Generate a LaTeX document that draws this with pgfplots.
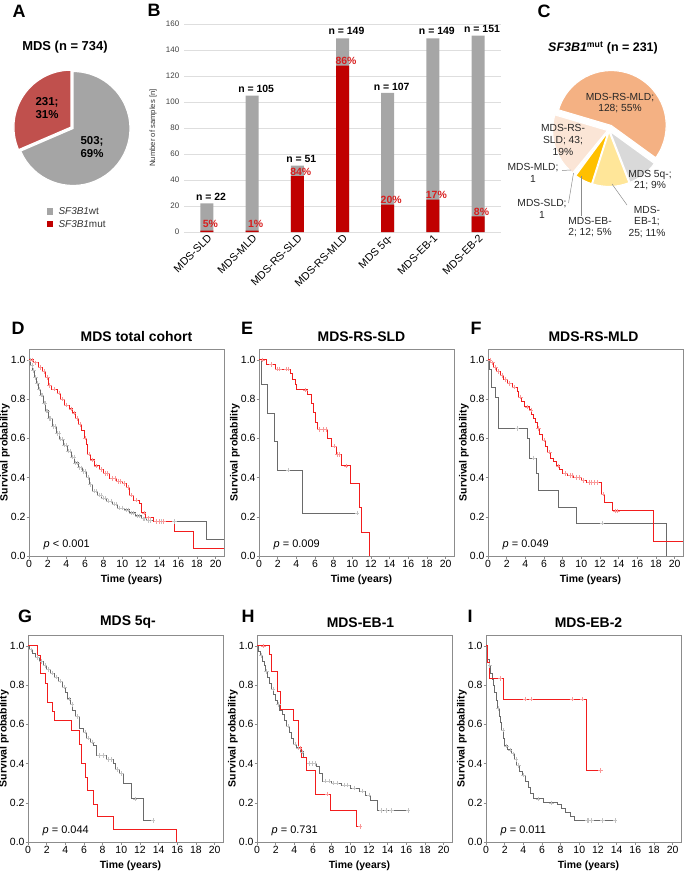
\documentclass[border=0pt]{standalone}
\usepackage{pgfplots}
\pgfplotsset{compat=1.18}
\usepackage{fontspec}
\setmainfont{Liberation Sans}

\definecolor{pieRed}{HTML}{C0504D}
\definecolor{pieGray}{HTML}{A5A5A5}
\definecolor{barRed}{HTML}{C00000}
\definecolor{barGray}{HTML}{A6A6A6}
\definecolor{pctRed}{HTML}{D81E1E}
\definecolor{cOrange}{HTML}{F4B183}
\definecolor{cPeach}{HTML}{FBE5D6}
\definecolor{cGray}{HTML}{D9D9D9}
\definecolor{cYellow}{HTML}{FFE699}
\definecolor{cGold}{HTML}{FFC000}
\definecolor{cSLD}{HTML}{C55A11}
\definecolor{cMLD}{HTML}{F8CBAD}
\definecolor{kmRed}{HTML}{F21D1D}
\definecolor{kmGray}{HTML}{6A6A6A}
\definecolor{kmBox}{HTML}{8C8C8C}

\tikzset{
 nlab/.style={font=\bfseries\fontsize{10.5}{11}\selectfont, xshift=4bp},
 plab/.style={font=\bfseries\fontsize{10.5}{11}\selectfont, text=pctRed, xshift=3.5bp},
 clab/.style={align=center, font=\fontsize{10.3}{11.7}\selectfont, text=black!85},
 letter/.style={font=\bfseries\fontsize{18}{18}\selectfont},
}

\pgfplotsset{
 km/.style={
  scale only axis, width=195bp, height=207bp,
  xmin=0, xmax=20.9, ymin=0, ymax=1.055,
  xtick={0,2,...,20}, ytick={0,0.2,0.4,0.6,0.8,1.0},
  tick pos=left, tick align=outside, major tick length=2.5bp,
  axis line style={kmBox, line width=0.6bp},
  tick style={kmBox, line width=0.5bp},
  /pgf/number format/assume math mode=true,
  ticklabel style={font=\fontsize{10.5}{11}\selectfont},
  yticklabel style={/pgf/number format/fixed, /pgf/number format/fixed zerofill, /pgf/number format/precision=1, inner xsep=0.8bp},
  xticklabel style={inner ysep=1.5bp},
  xlabel={Time (years)}, ylabel={Survival probability},
  label style={font=\bfseries\fontsize{10.5}{11}\selectfont},
  xlabel style={at={(axis description cs:0.5,-0.116)}, anchor=center, xshift=5bp},
  ylabel style={at={(axis description cs:-0.123,0.5)}, anchor=center},
  title style={font=\bfseries\fontsize{14}{15}\selectfont, yshift=-2.5bp},
 },
 redline/.style={const plot, kmRed, line width=0.8bp, mark=none},
 grayline/.style={const plot, kmGray, line width=0.8bp, mark=none},
 redcens/.style={only marks, mark=+, mark size=2.2bp, color=kmRed!45, mark options={line width=0.5bp}},
 graycens/.style={only marks, mark=+, mark size=2.2bp, color=kmGray!40, mark options={line width=0.5bp}},
}
\newcommand{\pval}[1]{\node[anchor=west, font=\fontsize{11}{12}\selectfont] at (axis cs:1.2,0.055) {#1};}
\newcommand{\pieslice}[5]{% color, start, end, explode, radius
  \fill[#1, draw=white, line width=1.2bp, shift={({(#2+#3)/2}:#4)}] (axis cs:0,0) -- ++(#2:#5) arc[start angle=#2, end angle=#3, radius=#5] -- cycle;}

\begin{document}
\begin{tikzpicture}
\path[use as bounding box] (0,0) rectangle (684bp,-871bp);

% panel letters
\node[letter] at (19bp,-11bp) {A};
\node[letter] at (154bp,-10bp) {B};
\node[letter] at (544bp,-11bp) {C};
\node[letter] at (18bp,-328bp) {D};
\node[letter] at (247bp,-328bp) {E};
\node[letter] at (476bp,-328bp) {F};
\node[letter] at (25bp,-616bp) {G};
\node[letter] at (248bp,-616bp) {H};
\node[letter] at (470bp,-616bp) {I};

% ---------------- A: pie -----------------
\pgfmathsetmacro\Awt{503}
\pgfmathsetmacro\Amut{231}
\pgfmathsetmacro\Amutang{90+\Amut/(\Awt+\Amut)*360}
\node[font=\bfseries\fontsize{13}{14}\selectfont] at (65bp,-47bp) {MDS (n = 734)};
\begin{axis}[at={(73bp,-128.5bp)}, anchor=center, hide axis, scale only axis,
  width=120bp, height=120bp, xmin=-1, xmax=1, ymin=-1, ymax=1]
\pieslice{pieGray}{\Amutang}{450}{0bp}{57bp}
\pieslice{pieRed}{90}{\Amutang}{2.5bp}{57bp}
\end{axis}
\node[align=center, font=\bfseries\fontsize{11.5}{13.3}\selectfont] at (47bp,-108bp) {231;\\31\%};
\node[align=center, font=\bfseries\fontsize{11.5}{13.3}\selectfont] at (92bp,-147bp) {503;\\69\%};
\fill[pieGray] (46.5bp,-208bp) rectangle (53bp,-214.5bp);
\fill[barRed] (46.5bp,-220.5bp) rectangle (53bp,-227bp);
\node[anchor=west, font=\fontsize{10}{11}\selectfont, text=black!80] at (55bp,-211.3bp) {\textit{SF3B1}wt};
\node[anchor=west, font=\fontsize{10}{11}\selectfont, text=black!80] at (55bp,-223.8bp) {\textit{SF3B1}mut};

% ---------------- B: bars -----------------
\begin{axis}[at={(184.4bp,-232bp)}, anchor=south west, scale only axis,
  width=316.2bp, height=208bp,
  ybar=0pt, bar width=13bp, bar shift=0pt, xmin=-0.5, xmax=6.5, ymin=0, ymax=160,
  ytick={0,20,...,160}, xtick={0,...,6},
  xticklabels={MDS-SLD,MDS-MLD,MDS-RS-SLD,MDS-RS-MLD,MDS 5q-,MDS-EB-1,MDS-EB-2},
  axis line style={draw=none}, major tick length=0pt,
  ymajorgrids, grid style={black!13, line width=0.7bp},
  /pgf/number format/assume math mode=true,
  yticklabel style={font=\fontsize{8}{9}\selectfont, text=black!75, inner xsep=5bp},
  xticklabel style={font=\fontsize{10.8}{11}\selectfont, rotate=45, anchor=north east, inner sep=1bp},
  ylabel={Number of samples [n]},
  ylabel style={font=\fontsize{7.7}{8}\selectfont, at={(axis description cs:-0.099,0.5)}, anchor=center, text=black!80},
]
\addplot[fill=barGray, draw=none] coordinates {(0,22)(1,105)(2,51)(3,149)(4,107)(5,149)(6,151)};
\addplot[fill=barRed, draw=none] coordinates {(0,1)(1,1)(2,43)(3,128)(4,21)(5,25)(6,12)};
\node[nlab] at (axis cs:0,27) {n = 22};
\node[nlab] at (axis cs:1,110) {n = 105};
\node[nlab] at (axis cs:2,56) {n = 51};
\node[nlab] at (axis cs:3,154.5) {n = 149};
\node[nlab] at (axis cs:4,112) {n = 107};
\node[nlab] at (axis cs:5,154.5) {n = 149};
\node[nlab] at (axis cs:6,156) {n = 151};
\node[plab] at (axis cs:0,6.2) {5\%};
\node[plab] at (axis cs:1,6.2) {1\%};
\node[plab] at (axis cs:2,46.6) {84\%};
\node[plab] at (axis cs:3,131.6) {86\%};
\node[plab] at (axis cs:4,24.8) {20\%};
\node[plab] at (axis cs:5,28.8) {17\%};
\node[plab] at (axis cs:6,15.8) {8\%};
\end{axis}

% ---------------- C: pie -----------------
\pgfmathsetmacro\aA{163.5}
\pgfmathsetmacro\aB{\aA-128/231*360}
\pgfmathsetmacro\aC{\aB-21/231*360}
\pgfmathsetmacro\aD{\aC-25/231*360}
\pgfmathsetmacro\aE{\aD-12/231*360}
\pgfmathsetmacro\aF{\aE-1/231*360}
\pgfmathsetmacro\aG{\aF-1/231*360}
\pgfmathsetmacro\aH{\aG-43/231*360}
\node[font=\bfseries\fontsize{12.5}{13}\selectfont] at (603bp,-48bp) {\textit{SF3B1}\textsuperscript{mut} (n = 231)};
\begin{axis}[at={(609bp,-130bp)}, anchor=center, hide axis, scale only axis,
  width=130bp, height=130bp, xmin=-1, xmax=1, ymin=-1, ymax=1]
\pieslice{cPeach}{\aG}{\aH}{1.5bp}{55bp}
\pieslice{cMLD}{\aF}{\aG}{1bp}{55bp}
\pieslice{cSLD}{\aE}{\aF}{1bp}{55bp}
\pieslice{cGold}{\aD}{\aE}{1.5bp}{55bp}
\pieslice{cYellow}{\aC}{\aD}{1.5bp}{55bp}
\pieslice{cGray}{\aB}{\aC}{1.5bp}{55bp}
\pieslice{cOrange}{\aA}{\aB}{5bp}{55bp}
\end{axis}
\node[clab] at (620bp,-103bp) {MDS-RS-MLD;\\128; 55\%};
\node[clab] at (563bp,-140bp) {MDS-RS-\\SLD; 43;\\19\%};
\node[clab] at (533bp,-173bp) {MDS-MLD;\\1};
\node[clab] at (542bp,-209bp) {MDS-SLD;\\1};
\node[clab] at (590bp,-227bp) {MDS-EB-\\2; 12; 5\%};
\node[clab] at (647bp,-222bp) {MDS-\\EB-1;\\25; 11\%};
\node[clab] at (650bp,-180bp) {MDS 5q-;\\21; 9\%};
\draw[black!45, line width=0.5bp] (562bp,-170.5bp) -- (571bp,-170bp);
\draw[black!45, line width=0.5bp] (568.5bp,-203bp) -- (573.5bp,-173bp);
\draw[black!45, line width=0.5bp] (581.5bp,-216bp) -- (581.5bp,-176bp);
\draw[black!45, line width=0.5bp] (627bp,-205bp) -- (612bp,-184bp);

% ---------------- D -----------------
\begin{axis}[km, at={(29bp,-556bp)}, anchor=south west, title={MDS total cohort}, title style={xshift=10bp}]
\addplot[grayline] coordinates {(0,1)(0.2,0.97)(0.4,0.945)(0.6,0.91)(0.8,0.88)(1.0,0.85)(1.2,0.82)(1.5,0.78)(1.8,0.74)(2.1,0.70)(2.5,0.66)(2.9,0.625)(3.3,0.595)(3.7,0.565)(4.1,0.535)(4.5,0.505)(4.9,0.475)(5.3,0.45)(5.7,0.43)(6.1,0.40)(6.5,0.365)(6.8,0.33)(7.3,0.31)(7.8,0.295)(8.3,0.28)(8.9,0.265)(9.5,0.245)(10.2,0.235)(10.8,0.22)(11.4,0.205)(12.0,0.19)(12.6,0.18)(13.3,0.175)(19.0,0.085)(20.9,0.085)};
\addplot[graycens] coordinates {(0.1,1.0)(0.3,0.97)(0.5,0.945)(0.7,0.91)(0.9,0.88)(1.1,0.85)(1.3,0.82)(1.4,0.82)(1.6,0.78)(1.7,0.78)(1.9,0.74)(2.0,0.74)(2.2,0.70)(2.3,0.70)(2.6,0.66)(2.8,0.66)(3.0,0.625)(3.2,0.625)(3.4,0.595)(3.6,0.595)(3.8,0.565)(4.0,0.565)(4.2,0.535)(4.4,0.535)(4.6,0.505)(4.8,0.505)(5.0,0.475)(5.2,0.475)(5.4,0.45)(5.6,0.45)(5.8,0.43)(6.0,0.43)(6.3,0.40)(6.6,0.365)(7.0,0.33)(7.2,0.33)(7.5,0.31)(7.7,0.31)(8.0,0.295)(8.2,0.295)(8.5,0.28)(8.8,0.28)(9.1,0.265)(9.3,0.265)(9.7,0.245)(10.0,0.245)(10.4,0.235)(10.6,0.235)(11.0,0.22)(11.2,0.22)(11.6,0.205)(11.8,0.205)(12.2,0.19)(12.4,0.19)(12.8,0.18)(13.0,0.18)(13.6,0.175)(14.2,0.175)(15.6,0.175)};
\addplot[redline] coordinates {(0,1.0)(0.5,0.985)(1.0,0.96)(1.4,0.94)(1.8,0.91)(2.1,0.87)(2.4,0.85)(3.0,0.83)(3.4,0.80)(3.8,0.77)(4.3,0.75)(4.7,0.73)(5.0,0.70)(5.3,0.67)(5.6,0.64)(5.9,0.60)(6.1,0.57)(6.3,0.52)(6.6,0.49)(7.0,0.46)(7.5,0.44)(8.0,0.42)(8.6,0.395)(9.4,0.38)(10.0,0.37)(10.4,0.35)(10.8,0.31)(11.2,0.285)(11.8,0.27)(12.1,0.22)(12.5,0.195)(13.3,0.175)(15.6,0.125)(17.6,0.04)(20.9,0.04)};
\addplot[redcens] coordinates {(0.3,1.0)(0.7,0.985)(1.2,0.96)(1.6,0.94)(2.0,0.91)(2.2,0.87)(2.7,0.85)(3.2,0.83)(3.6,0.80)(4.0,0.77)(4.5,0.75)(4.85,0.73)(5.15,0.70)(5.45,0.67)(6.0,0.60)(6.45,0.52)(6.8,0.49)(7.2,0.46)(7.7,0.44)(8.2,0.42)(8.4,0.42)(8.9,0.395)(9.2,0.395)(9.6,0.38)(9.8,0.38)(10.2,0.37)(10.6,0.35)(11.0,0.31)(11.5,0.285)(12.3,0.22)(12.8,0.195)(13.6,0.175)(14.0,0.175)(14.4,0.175)};
\pval{\textit{p} < 0.001}
\end{axis}

% ---------------- E -----------------
\begin{axis}[km, at={(259bp,-556bp)}, anchor=south west, title={MDS-RS-SLD}, title style={xshift=5bp}]
\addplot[grayline] coordinates {(0,1.0)(0.3,0.875)(0.9,0.729)(1.65,0.583)(2.0,0.4375)(4.7,0.219)(10.5,0.219)};
\addplot[graycens] coordinates {(3.1,0.4375)(10.5,0.219)};
\addplot[redline] coordinates {(0,1.0)(0.75,0.977)(1.8,0.953)(3.4,0.93)(3.6,0.90)(3.85,0.873)(4.05,0.847)(5.2,0.822)(5.6,0.78)(5.8,0.73)(6.0,0.68)(6.25,0.644)(7.3,0.60)(7.75,0.56)(8.3,0.517)(8.85,0.46)(9.75,0.37)(10.8,0.25)(11.0,0.12)(11.85,0.0)};
\addplot[redcens] coordinates {(0.4,1.0)(1.3,0.977)(2.0,0.953)(2.2,0.953)(2.9,0.953)(3.1,0.953)(5.0,0.847)(6.5,0.644)(6.9,0.644)(7.2,0.644)(8.1,0.56)(8.4,0.517)(8.6,0.517)(9.3,0.46)};
\pval{\textit{p} = 0.009}
\end{axis}

% ---------------- F -----------------
\begin{axis}[km, at={(488bp,-556bp)}, anchor=south west, title={MDS-RS-MLD}, title style={xshift=8bp}]
\addplot[grayline] coordinates {(0,1.0)(0.2,0.95)(0.4,0.86)(0.8,0.81)(1.1,0.65)(4.2,0.60)(4.4,0.50)(5.2,0.42)(5.35,0.334)(7.5,0.25)(9.5,0.167)(19.1,0.0)};
\addplot[graycens] coordinates {(3.1,0.65)(4.9,0.50)(12.2,0.167)};
\addplot[redline] coordinates {(0,1.0)(0.3,0.985)(0.6,0.96)(0.9,0.94)(1.3,0.92)(1.7,0.90)(2.1,0.88)(2.6,0.86)(3.1,0.84)(3.3,0.81)(3.6,0.79)(3.9,0.76)(4.4,0.745)(4.7,0.72)(4.9,0.70)(5.1,0.68)(5.3,0.65)(5.5,0.62)(5.8,0.59)(6.1,0.56)(6.4,0.53)(6.7,0.50)(7.0,0.48)(7.3,0.46)(7.7,0.44)(8.0,0.42)(8.5,0.41)(9.2,0.40)(10.0,0.385)(10.5,0.375)(12.1,0.315)(12.5,0.275)(13.3,0.23)(17.7,0.075)(20.9,0.075)};
\addplot[redcens] coordinates {(0.2,1.0)(0.5,0.985)(0.8,0.96)(1.1,0.94)(1.5,0.92)(1.9,0.90)(2.3,0.88)(2.8,0.86)(3.5,0.81)(4.2,0.76)(4.6,0.745)(5.4,0.65)(6.0,0.59)(6.6,0.53)(7.5,0.46)(8.3,0.42)(8.8,0.41)(9.0,0.41)(9.5,0.40)(9.8,0.40)(10.2,0.385)(10.8,0.375)(11.1,0.375)(11.4,0.375)(11.7,0.375)(12.3,0.315)(13.6,0.23)(13.9,0.23)};
\pval{\textit{p} = 0.049}
\end{axis}

% ---------------- G -----------------
\begin{axis}[km, at={(28bp,-842bp)}, anchor=south west, title={MDS 5q-}, title style={xshift=2.5bp}]
\addplot[grayline] coordinates {(0,1.0)(0.2,0.98)(0.45,0.96)(0.8,0.94)(1.2,0.92)(1.6,0.90)(2.0,0.88)(2.4,0.86)(2.8,0.84)(3.3,0.82)(3.7,0.79)(4.0,0.76)(4.2,0.73)(4.5,0.70)(4.8,0.67)(5.1,0.64)(5.5,0.58)(5.9,0.56)(6.3,0.53)(6.7,0.51)(7.0,0.49)(7.3,0.44)(8.4,0.42)(9.1,0.40)(9.4,0.37)(9.8,0.35)(10.2,0.30)(11.1,0.22)(12.4,0.11)(13.4,0.11)};
\addplot[graycens] coordinates {(0.3,0.98)(1.0,0.94)(1.4,0.92)(1.8,0.90)(2.2,0.88)(2.6,0.86)(3.0,0.84)(3.5,0.82)(3.9,0.79)(4.4,0.73)(4.7,0.70)(5.3,0.64)(6.1,0.56)(6.5,0.53)(6.9,0.51)(7.6,0.44)(8.1,0.44)(8.6,0.42)(8.9,0.42)(9.6,0.37)(10.0,0.35)(11.5,0.22)(13.4,0.11)};
\addplot[redline] coordinates {(0,1.0)(1.0,0.952)(1.35,0.857)(1.9,0.81)(2.1,0.714)(2.65,0.667)(2.85,0.619)(4.7,0.571)(5.5,0.50)(5.75,0.40)(6.1,0.33)(6.4,0.262)(7.0,0.19)(7.4,0.131)(9.1,0.066)(15.9,0.0)};
\pval{\textit{p} = 0.044}
\end{axis}

% ---------------- H -----------------
\begin{axis}[km, at={(257bp,-842bp)}, anchor=south west, title={MDS-EB-1}, title style={xshift=6bp}]
\addplot[grayline] coordinates {(0,1.0)(0.15,0.97)(0.35,0.95)(0.55,0.92)(0.75,0.90)(0.95,0.87)(1.15,0.84)(1.35,0.81)(1.55,0.78)(1.75,0.75)(1.95,0.72)(2.2,0.70)(2.45,0.67)(2.7,0.65)(2.95,0.62)(3.2,0.59)(3.45,0.56)(3.7,0.53)(3.95,0.50)(4.2,0.48)(4.6,0.46)(5.0,0.43)(5.3,0.40)(6.4,0.385)(6.7,0.35)(7.0,0.31)(8.0,0.30)(9.0,0.29)(10.0,0.275)(11.0,0.26)(11.6,0.24)(12.2,0.21)(12.9,0.16)(16.2,0.16)};
\addplot[graycens] coordinates {(0.45,0.95)(1.0,0.87)(1.7,0.78)(2.3,0.70)(3.3,0.59)(4.1,0.50)(4.4,0.48)(4.8,0.46)(5.6,0.40)(5.9,0.40)(6.2,0.40)(7.3,0.31)(7.7,0.31)(8.2,0.30)(8.6,0.30)(9.3,0.29)(9.7,0.29)(10.4,0.275)(11.3,0.26)(12.0,0.24)(13.3,0.16)(13.8,0.16)(14.4,0.16)(16.2,0.16)};
\addplot[redline] coordinates {(0,1.0)(1.3,0.955)(1.5,0.87)(2.2,0.77)(2.5,0.675)(3.9,0.62)(4.4,0.48)(4.8,0.43)(5.3,0.365)(6.3,0.245)(7.9,0.16)(10.7,0.08)(11.05,0.08)};
\addplot[redcens] coordinates {(0.7,1.0)(4.6,0.48)(7.5,0.245)(11.05,0.08)};
\pval{\textit{p} = 0.731}
\end{axis}

% ---------------- I -----------------
\begin{axis}[km, at={(486bp,-842bp)}, anchor=south west, title={MDS-EB-2}, title style={xshift=5bp}]
\addplot[grayline] coordinates {(0,1.0)(0.1,0.96)(0.2,0.93)(0.35,0.90)(0.5,0.86)(0.65,0.83)(0.8,0.80)(0.95,0.76)(1.1,0.72)(1.25,0.68)(1.4,0.64)(1.55,0.61)(1.7,0.57)(1.85,0.53)(2.0,0.49)(2.3,0.47)(2.7,0.45)(3.0,0.42)(3.3,0.39)(3.6,0.36)(3.9,0.34)(4.2,0.31)(4.5,0.28)(4.8,0.25)(5.1,0.22)(6.2,0.20)(7.6,0.19)(8.1,0.17)(8.5,0.15)(9.0,0.13)(9.5,0.11)(14.0,0.11)};
\addplot[graycens] coordinates {(0.4,0.90)(1.3,0.68)(1.8,0.57)(2.2,0.49)(2.6,0.47)(2.9,0.45)(3.2,0.42)(3.5,0.39)(4.0,0.34)(5.6,0.22)(7.0,0.20)(10.8,0.11)(11.0,0.11)(11.3,0.11)(12.5,0.11)(13.8,0.11)};
\addplot[redline] coordinates {(0,1.0)(0.18,0.917)(0.36,0.833)(1.9,0.729)(10.8,0.365)(12.25,0.365)};
\addplot[redcens] coordinates {(1.5,0.833)(4.2,0.729)(4.8,0.729)(9.2,0.729)(10.3,0.729)(12.25,0.365)};
\pval{\textit{p} = 0.011}
\end{axis}
\end{tikzpicture}
\end{document}
